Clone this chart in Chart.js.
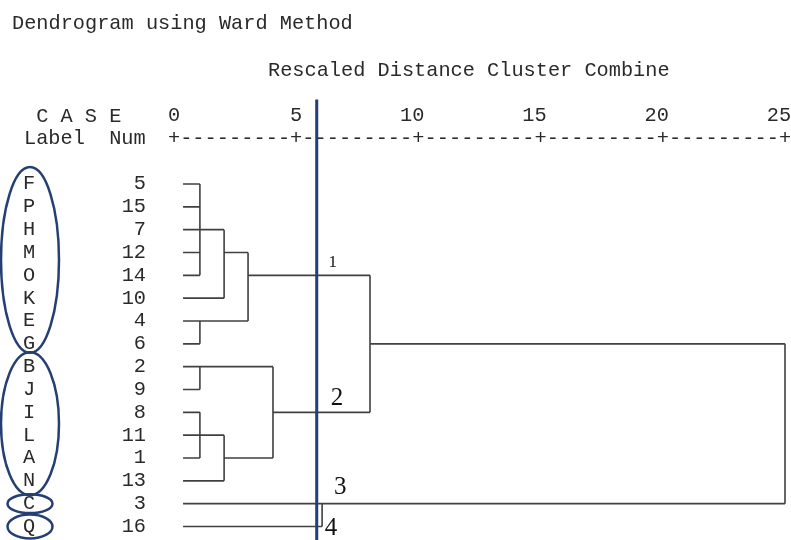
<!DOCTYPE html>
<html>
<head>
<meta charset="utf-8">
<script src="https://cdn.jsdelivr.net/npm/chart.js@4.4.1/dist/chart.umd.min.js"></script>
<style>
  html, body { margin: 0; padding: 0; background: #fff; }
  #wrap { width: 791px; height: 540px; }
</style>
</head>
<body>
<div id="wrap"><canvas id="dendro" width="791" height="540"></canvas></div>
<script>
// cases, top to bottom as in the SPSS output
const caseLabels = ['F','P','H','M','O','K','E','G','B','J','I','L','A','N','C','Q'];
const caseNums   = [5, 15, 7, 12, 14, 10, 4, 6, 2, 9, 8, 11, 1, 13, 3, 16];

// rescaled distance ticks
const distTicks = [0, 5, 10, 15, 20, 25];

// merges: rows joined, rescaled distance, row where the new cluster goes on
const mergeRows = [[0,1,2,3,4], [6,7], [8,9], [10,11,12], [2,5], [11,13], [3,6], [8,12], [14,15], [4,10], [7,14]];
const mergeDist = [1.06, 1.06, 1.06, 1.06, 2.05, 2.05, 3.03, 4.05, 6.06, 8.02, 25];
const mergeOut  = [2, 6, 8, 11, 3, 12, 4, 10, 14, 7, 7];
const leafStart = 0.37;

// cut line + cluster numbers written next to it
const cutDist = 5.84;
const clusterNames = ['1', '2', '3', '4'];
const clusterDist  = [6.5, 6.67, 6.8, 6.42];
const clusterRow   = [3.42, 9.37, 13.3, 15.07];

// groups circled on the left (first row, last row)
const groupFirst = [0, 8, 14, 15];
const groupLast  = [7, 13, 14, 15];

// build the tree segments (NaN point = break in the line)
const curH = caseLabels.map(() => leafStart);
const treePts = [];
const gap = { x: NaN, y: NaN };
mergeRows.forEach((rows, k) => {
  const h = mergeDist[k];
  rows.forEach(r => {
    treePts.push({ x: curH[r], y: r }, { x: h, y: r }, gap);
  });
  treePts.push({ x: h, y: Math.min(...rows) }, { x: h, y: Math.max(...rows) }, gap);
  curH[mergeOut[k]] = h;
});

const MONO = '20.3px "Liberation Mono", "Courier New", monospace';

const spssText = {
  id: 'spssText',
  afterDraw(chart) {
    const ctx = chart.ctx;
    const xs = chart.scales.x, ys = chart.scales.y;
    ctx.save();
    ctx.fillStyle = '#2a2a2a';
    ctx.font = MONO;
    ctx.textBaseline = 'middle';

    ctx.textAlign = 'left';
    ctx.fillText('Dendrogram using Ward Method', 12, 24);
    ctx.fillText('Rescaled Distance Cluster Combine', 268, 71);
    ctx.fillText(' C A S E', 24, 117);
    ctx.fillText('Label  Num', 24, 139);

    // tick numbers: last digit sits over the '+'
    ctx.textAlign = 'center';
    const cw = xs.getPixelForValue(0.5) - xs.getPixelForValue(0);
    distTicks.forEach(t => {
      const s = String(t);
      for (let i = 0; i < s.length; i++) {
        ctx.fillText(s[i], xs.getPixelForValue(t) - (s.length - 1 - i) * cw, 116);
      }
    });
    // ruler +---------+
    for (let v = 0; v <= 25; v += 0.5) {
      ctx.fillText(v % 5 === 0 ? '+' : '-', xs.getPixelForValue(v), 139);
    }

    // case labels and numbers
    caseLabels.forEach((lab, i) => {
      const y = ys.getPixelForValue(i);
      ctx.textAlign = 'center';
      ctx.fillText(lab, 29, y);
      ctx.textAlign = 'right';
      ctx.fillText(String(caseNums[i]), 146, y);
    });

    // circles round the groups
    ctx.strokeStyle = '#243f73';
    ctx.lineWidth = 2.5;
    const pitch = ys.getPixelForValue(1) - ys.getPixelForValue(0);
    const ryAdd = [1.5, 3, -2, 0.5];
    const cyAdd = [-4, 0, 0, 0];
    groupFirst.forEach((f, g) => {
      const l = groupLast[g];
      const cy = ys.getPixelForValue((f + l) / 2) + cyAdd[g];
      const ry = (l - f + 1) / 2 * pitch + ryAdd[g];
      const rx = l > f ? 29 : 22.5;
      ctx.beginPath();
      ctx.ellipse(30, cy, rx, ry, 0, 0, Math.PI * 2);
      ctx.stroke();
    });

    // cluster numbers
    ctx.fillStyle = '#111';
    ctx.textAlign = 'center';
    clusterNames.forEach((n, i) => {
      ctx.font = (i === 0 ? '17px' : '25px') + ' "Liberation Serif", "Times New Roman", serif';
      ctx.fillText(n, xs.getPixelForValue(clusterDist[i]), ys.getPixelForValue(clusterRow[i]));
    });
    ctx.restore();
  }
};

new Chart(document.getElementById('dendro'), {
  type: 'scatter',
  data: {
    datasets: [
      {
        label: 'cut',
        data: [{ x: cutDist, y: -3.7 }, { x: cutDist, y: 15.7 }],
        showLine: true,
        borderColor: '#243f73',
        borderWidth: 3,
        pointRadius: 0,
        clip: false,
        order: 0
      },
      {
        label: 'tree',
        data: treePts,
        showLine: true,
        spanGaps: false,
        borderColor: '#404040',
        borderWidth: 1.6,
        pointRadius: 0,
        clip: false,
        order: 1
      }
    ]
  },
  options: {
    responsive: false,
    animation: false,
    devicePixelRatio: 1,
    layout: { padding: { left: 174, right: 6, top: 184, bottom: 13.5 } },
    plugins: { legend: { display: false }, tooltip: { enabled: false } },
    scales: {
      x: { type: 'linear', min: 0, max: 25, display: false },
      y: { type: 'linear', min: 0, max: 15, reverse: true, display: false }
    }
  },
  plugins: [spssText]
});
</script>
</body>
</html>
